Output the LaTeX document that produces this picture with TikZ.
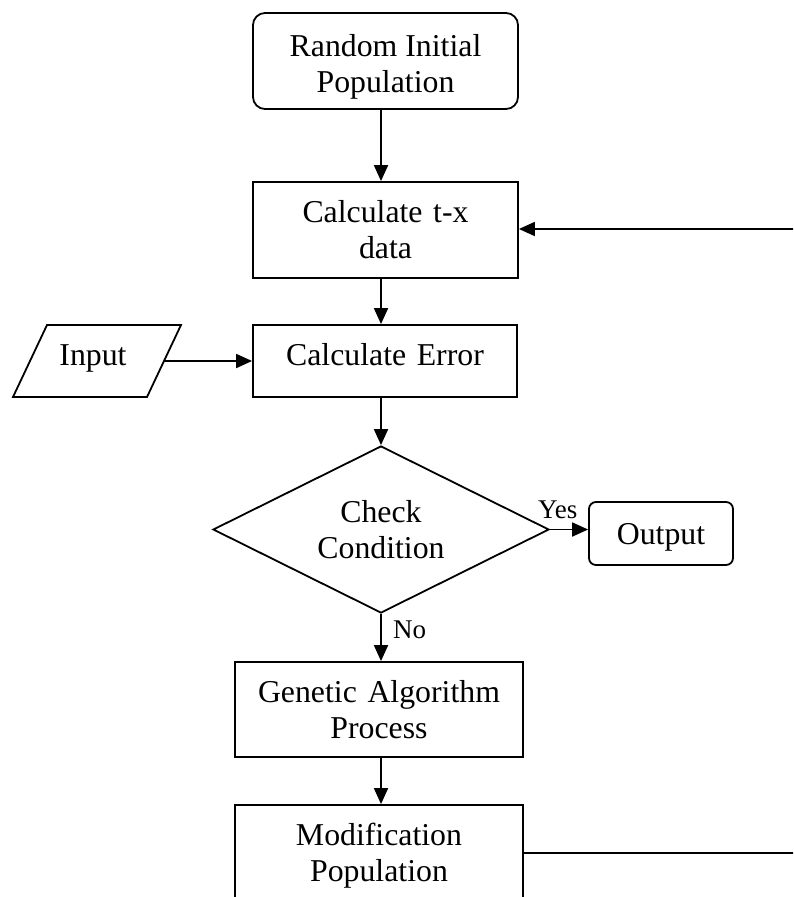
\documentclass[tikz,border=0pt]{standalone}
\usepackage{fontspec}
\setmainfont{Liberation Serif}
\usetikzlibrary{arrows.meta,shapes.geometric}

\begin{document}
\begin{tikzpicture}[x=1pt,y=-1pt,
  every node/.style={font=\fontsize{31.8}{36}\selectfont, inner sep=0pt},
  outline/.style={draw, line width=1.8pt},
  stepbox/.style={outline, rectangle, align=center, text width=#1},
  stepbox/.default=250pt,
  termbox/.style={outline, rectangle, rounded corners=#1, align=center},
  flow/.style={line width=1.8pt, -{Triangle[length=16pt,width=14pt]}},
  tag/.style={font=\fontsize{27}{30}\selectfont}
]
  % page frame: the loop on the right runs past the edge
  \useasboundingbox (0,0) rectangle (793,897);
  \clip (0,0) rectangle (793,897);

  % main column
  \node[termbox=12pt, minimum width=265pt, minimum height=96pt,
        text height=64pt, text depth=2pt] (init) at (385.5,61)
       {Random Initial\\Population};
  \node[stepbox, minimum width=265pt, minimum height=96pt,
        text height=20pt, text depth=36pt] (txd) at (385.5,230)
       {Calculate t-x\\data};
  \node[stepbox, minimum width=264pt, minimum height=72pt,
        text height=20pt, text depth=12pt] (err) at (385,361)
       {Calculate Error};
  \node[outline, diamond, aspect=2, minimum width=336pt, minimum height=167pt,
        align=center, text height=59pt, text depth=2pt] (dia) at (381,529.5)
       {Check\\Condition};
  \node[stepbox, minimum width=288pt, minimum height=95pt,
        text height=20pt, text depth=35pt] (ga) at (379,709.5)
       {Genetic Algorithm\\Process};
  \node[stepbox, minimum width=288pt, minimum height=96pt,
        text height=20pt, text depth=36pt] (mod) at (379,853)
       {Modification\\Population};

  % input data block (parallelogram)
  \draw[outline] (13,397) -- (147,397) -- (181,325) -- (47,325) -- cycle;
  \node[text height=20pt, text depth=12pt] (inp) at (93,361) {Input};
  \coordinate (inpR) at (164,361);

  % result block
  \node[termbox=7pt, minimum width=144pt, minimum height=63pt,
        text height=22pt, text depth=1pt] (out) at (661,533.5) {Output};

  % far ends of the feedback loop, beyond the right edge
  \coordinate (loopA) at (805,853);
  \coordinate (loopB) at (805,229);

  % connectors
  \draw[flow] (init.south -| dia.north) -- (txd.north -| dia.north);
  \draw[flow] (txd.south -| dia.north) -- (err.north -| dia.north);
  \draw[flow] (inpR) -- (inpR -| err.west);
  \draw[flow] (err.south -| dia.north) -- (dia.north);
  \draw[flow] (dia.east) -- (dia.east -| out.west);
  \draw[flow] (dia.south) -- (ga.north -| dia.south);
  \draw[flow] (ga.south -| dia.south) -- (mod.north -| dia.south);
  \draw[flow] (mod.east |- loopA) -- (loopA) -- (loopB) -- (loopB -| txd.east);

  % branch labels
  \node[tag, anchor=base west] (yes) at (538,518) {Yes};
  \node[tag, anchor=base west] (no) at (393,638) {No};
\end{tikzpicture}
\end{document}
